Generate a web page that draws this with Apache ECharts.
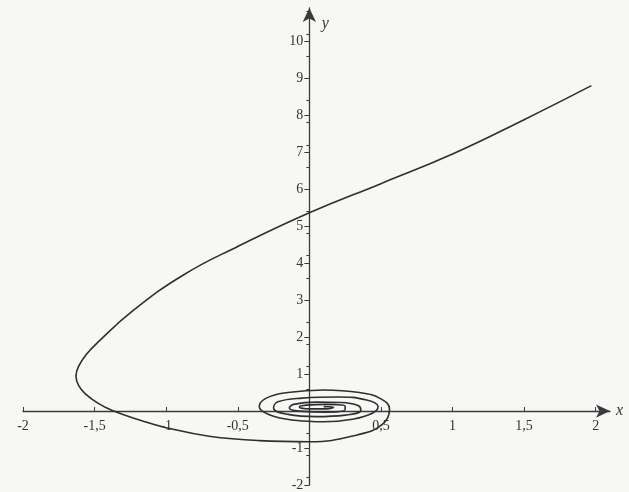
<!DOCTYPE html>
<html>
<head>
<meta charset="utf-8">
<script src="https://cdn.jsdelivr.net/npm/echarts@6/dist/echarts.min.js"></script>
<style>
  html, body { margin: 0; padding: 0; background: #f7f7f5; }
  #chart { width: 629px; height: 492px; }
</style>
</head>
<body>
<div id="chart"></div>
<script>
// points, from the upper right end inward to the spiral centre
var curveX = [1.97, 1.50, 1.00, 0.50, 0.00, -0.50, -0.88, -1.23, -1.48, -1.56, -1.61, -1.63, -1.61, -1.56, -1.48, -1.38, -1.18, -1.00,
  -0.70, -0.35, 0.00, 0.34, 0.51, 0.56, 0.50, 0.35, 0.10, -0.15, -0.30, -0.35, -0.28, -0.10, 0.10, 0.30, 0.44,
  0.48, 0.40, 0.20, -0.05, -0.22, -0.25, -0.15, 0.05, 0.25, 0.36,
  0.34, 0.22, 0.05, -0.11, -0.14, -0.05, 0.12, 0.25,
  0.25, 0.12, -0.02, -0.07, 0.00, 0.12, 0.17, 0.10];
var curveY = [8.80, 7.88, 6.95, 6.15, 5.36, 4.45, 3.68, 2.72, 1.85, 1.52, 1.22, 0.95, 0.68, 0.45, 0.22, 0.02, -0.25, -0.45,
  -0.68, -0.80, -0.83, -0.64, -0.36, 0.05, 0.33, 0.50, 0.57, 0.50, 0.35, 0.12, -0.10, -0.25, -0.29, -0.22, -0.06,
  0.12, 0.30, 0.38, 0.35, 0.25, 0.08, -0.09, -0.15, -0.11, 0.02,
  0.15, 0.23, 0.24, 0.18, 0.08, -0.01, -0.03, 0.04,
  0.13, 0.18, 0.16, 0.11, 0.06, 0.06, 0.10, 0.12];

var xTicks = [-2, -1.5, -1, -0.5, 0, 0.5, 1, 1.5, 2];
var xLabels = [-2, -1.5, -1, -0.5, 0.5, 1, 1.5, 2];
var yTicks = [-2, -1, 0, 1, 2, 3, 4, 5, 6, 7, 8, 9, 10];
var yLabels = [-2, -1, 1, 2, 3, 4, 5, 6, 7, 8, 9, 10];

var points = [];
for (var i = 0; i < curveX.length; i++) {
  points.push([curveX[i], curveY[i]]);
}

// decimal comma, as in the printed figure
function fmt(v) {
  return String(v).replace('.', ',');
}

var W = 629, H = 492;
var gLeft = 23, gRight = 19, gTop = 8, gBottom = 7;
var xMin = -2, xMax = 2.1, yMin = -2, yMax = 10.9;
// move both axes (line + labels) so they cross at the origin
var x0 = (0 - xMin) / (xMax - xMin) * (W - gLeft - gRight);
var y0 = (0 - yMin) / (yMax - yMin) * (H - gTop - gBottom);

var axisColor = '#3a3a3a';
var font = '"Liberation Serif", "DejaVu Serif", serif';

var chart = echarts.init(document.getElementById('chart'));
chart.setOption({
  backgroundColor: '#f7f7f5',
  animation: false,
  grid: { left: gLeft, right: gRight, top: gTop, bottom: gBottom },
  xAxis: {
    type: 'value',
    min: xMin,
    max: xMax,
    offset: -y0,
    splitLine: { show: false },
    axisLine: {
      onZero: false,
      lineStyle: { color: axisColor, width: 1.3 },
      symbol: ['none', 'arrow'],
      symbolSize: [10, 14]
    },
    axisTick: { customValues: xTicks, length: 4, inside: true, lineStyle: { color: axisColor } },
    axisLabel: {
      customValues: xLabels,
      formatter: fmt,
      color: '#333',
      fontFamily: font,
      fontSize: 14,
      margin: 8
    },
    name: 'x',
    nameLocation: 'end',
    nameGap: 6,
    nameTextStyle: { fontFamily: font, fontStyle: 'italic', fontSize: 16, color: '#333', padding: [14, 0, 0, 0] }
  },
  yAxis: {
    type: 'value',
    min: yMin,
    max: yMax,
    offset: -x0,
    splitLine: { show: false },
    axisLine: {
      onZero: false,
      lineStyle: { color: axisColor, width: 1.3 },
      symbol: ['none', 'arrow'],
      symbolSize: [10, 14]
    },
    axisTick: { customValues: yTicks, length: 5, lineStyle: { color: axisColor } },
    minorTick: { show: true, splitNumber: 5, length: 3, lineStyle: { color: axisColor } },
    axisLabel: {
      customValues: yLabels,
      formatter: fmt,
      color: '#333',
      fontFamily: font,
      fontSize: 14,
      margin: 6
    },
    name: 'y',
    nameLocation: 'end',
    nameGap: -24,
    nameTextStyle: { fontFamily: font, fontStyle: 'italic', fontSize: 16, color: '#333', padding: [0, 0, 0, 32] }
  },
  series: [{
    type: 'line',
    data: points,
    smooth: 0.45,
    showSymbol: false,
    z: 5,
    lineStyle: { color: '#2e2e2e', width: 1.6 }
  }]
});
</script>
</body>
</html>
